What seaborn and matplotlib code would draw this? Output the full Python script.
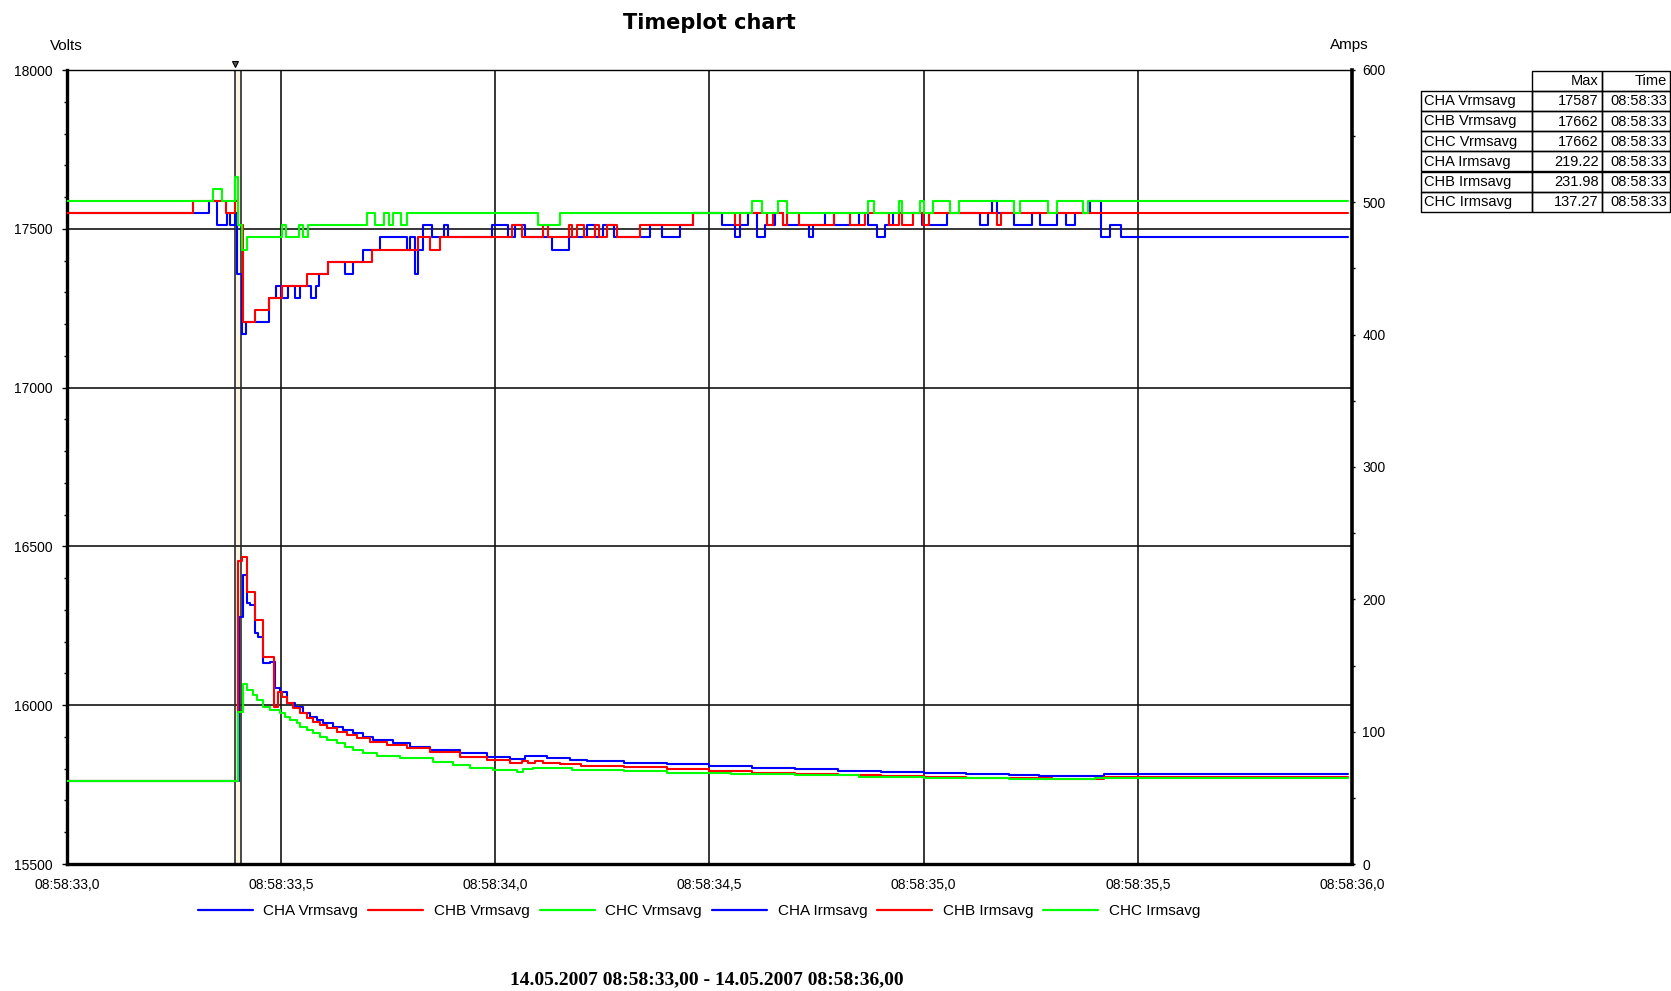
import numpy as np
import pandas as pd
import seaborn as sns
import matplotlib
matplotlib.use("Agg")
import matplotlib.pyplot as plt
from matplotlib.lines import Line2D
from matplotlib.patches import Rectangle
from matplotlib.ticker import MultipleLocator
import matplotlib.transforms as mtransforms

# ---------------- data ----------------
# time in seconds after 08:58:33,0 ; each pair = (time, value held from that time on)
end_time = 2.99

cha_v = [(0.000, 17550), (0.332, 17587), (0.351, 17512), (0.373, 17550), (0.381, 17512), (0.392, 17550),
         (0.398, 17358), (0.408, 17170), (0.419, 17207), (0.4725, 17282), (0.487, 17320), (0.500, 17282),
         (0.515, 17320), (0.532, 17282), (0.544, 17320), (0.570, 17282), (0.581, 17320), (0.589, 17358),
         (0.610, 17396), (0.649, 17358), (0.668, 17396), (0.692, 17433), (0.731, 17475), (0.793, 17433),
         (0.800, 17475), (0.8125, 17358), (0.820, 17433), (0.832, 17512), (0.851, 17475), (0.879, 17512),
         (0.890, 17475), (0.992, 17512), (1.030, 17475), (1.046, 17512), (1.069, 17475), (1.132, 17433),
         (1.173, 17475), (1.213, 17512), (1.233, 17475), (1.252, 17512), (1.276, 17475), (1.361, 17512),
         (1.389, 17475), (1.431, 17512), (1.462, 17550), (1.529, 17512), (1.560, 17475), (1.571, 17512),
         (1.591, 17550), (1.610, 17475), (1.630, 17512), (1.653, 17550), (1.672, 17512), (1.732, 17475),
         (1.741, 17512), (1.770, 17550), (1.791, 17512), (1.850, 17550), (1.871, 17512), (1.890, 17475),
         (1.910, 17512), (1.929, 17550), (1.996, 17512), (2.055, 17550), (2.131, 17512), (2.151, 17550),
         (2.160, 17587), (2.172, 17550), (2.212, 17512), (2.252, 17550), (2.271, 17512), (2.312, 17550),
         (2.332, 17512), (2.353, 17550), (2.388, 17587), (2.414, 17475), (2.434, 17512), (2.461, 17475)]

chb_v = [(0.000, 17550), (0.295, 17587), (0.371, 17550), (0.392, 17587), (0.400, 17512), (0.410, 17207),
         (0.439, 17245), (0.4725, 17282), (0.501, 17320), (0.561, 17358), (0.610, 17396), (0.711, 17433),
         (0.820, 17475), (0.8475, 17433), (0.871, 17475), (1.038, 17512), (1.062, 17475), (1.112, 17512),
         (1.124, 17475), (1.171, 17512), (1.178, 17475), (1.190, 17512), (1.206, 17475), (1.233, 17512),
         (1.241, 17475), (1.260, 17512), (1.283, 17475), (1.338, 17512), (1.462, 17550), (1.560, 17512),
         (1.571, 17550), (1.634, 17512), (1.649, 17550), (1.672, 17512), (1.680, 17550), (1.708, 17512),
         (1.791, 17550), (1.829, 17512), (1.862, 17550), (1.919, 17512), (1.942, 17550), (1.950, 17512),
         (1.975, 17550), (1.999, 17512), (2.013, 17550), (2.171, 17512), (2.181, 17550)]

chc_v = [(0.000, 17587), (0.340, 17625), (0.361, 17587), (0.392, 17662), (0.400, 17512), (0.408, 17433),
         (0.4196, 17475), (0.5012, 17512), (0.511, 17475), (0.542, 17512), (0.552, 17475), (0.562, 17512),
         (0.700, 17550), (0.719, 17512), (0.741, 17550), (0.752, 17512), (0.762, 17550), (0.780, 17512),
         (0.793, 17550), (1.100, 17512), (1.151, 17550), (1.599, 17587), (1.622, 17550), (1.661, 17587),
         (1.680, 17550), (1.871, 17587), (1.883, 17550), (1.942, 17587), (1.950, 17550), (1.992, 17587),
         (2.000, 17550), (2.021, 17587), (2.062, 17550), (2.082, 17587), (2.212, 17550), (2.224, 17587),
         (2.291, 17550), (2.312, 17587), (2.373, 17550), (2.384, 17587)]

cha_i = [(0.000, 63.0), (0.4024, 186.9), (0.4117, 218.3), (0.4195, 197.0), (0.4273, 195.7), (0.4390, 174.3),
         (0.4467, 171.7), (0.4584, 151.6), (0.4740, 152.9), (0.4856, 132.7), (0.4973, 130.2), (0.5129, 121.4),
         (0.5323, 118.8), (0.5518, 113.8), (0.5674, 111.3), (0.5829, 108.8), (0.5985, 106.3), (0.6219, 103.7),
         (0.6452, 101.2), (0.6686, 98.7), (0.6919, 96.2), (0.7153, 93.7), (0.7620, 91.1), (0.8000, 88.6),
         (0.8475, 86.1), (0.9176, 83.6), (0.9798, 81.1), (1.0343, 79.1), (1.0693, 81.8), (1.1199, 79.8),
         (1.1743, 78.5), (1.2133, 77.8), (1.30, 76.5), (1.40, 75.2), (1.50, 74.0), (1.60, 72.8), (1.70, 71.5),
         (1.80, 70.3), (1.90, 69.5), (2.00, 68.8), (2.10, 68.0), (2.20, 67.4), (2.27, 66.5), (2.42, 68.2)]

chb_i = [(0.000, 63.0), (0.4000, 229.2), (0.4078, 231.9), (0.4195, 205.8), (0.4390, 184.4), (0.4584, 156.1),
         (0.4834, 118.8), (0.4934, 130.2), (0.5012, 126.0), (0.5129, 121.4), (0.5285, 117.6), (0.5440, 113.8),
         (0.5596, 110.0), (0.5751, 107.5), (0.5907, 105.0), (0.6063, 102.5), (0.6296, 100.0), (0.6530, 97.5),
         (0.6763, 95.0), (0.7075, 92.4), (0.7464, 89.9), (0.7930, 87.4), (0.8475, 84.8), (0.9176, 81.1),
         (0.9798, 78.5), (1.0343, 76.5), (1.0615, 78.0), (1.0770, 76.5), (1.0926, 78.0), (1.1120, 76.5),
         (1.1500, 75.5), (1.2000, 74.2), (1.30, 73.0), (1.40, 71.5), (1.50, 70.2), (1.60, 69.0), (1.70, 68.0),
         (1.80, 67.0), (1.90, 66.3), (2.00, 65.6), (2.10, 65.0), (2.30, 64.4), (2.42, 65.6)]

chc_i = [(0.000, 63.0), (0.4000, 115.0), (0.4117, 136.0), (0.4195, 131.4), (0.4350, 127.7), (0.4428, 123.9),
         (0.4584, 118.8), (0.4740, 116.3), (0.4973, 113.8), (0.5090, 111.3), (0.5206, 108.8), (0.5360, 106.3),
         (0.5440, 103.7), (0.5600, 101.2), (0.5750, 98.7), (0.5910, 96.2), (0.6060, 93.7), (0.6300, 91.1),
         (0.6490, 88.6), (0.6680, 86.1), (0.6920, 83.6), (0.7230, 81.6), (0.7780, 79.8), (0.8550, 77.3),
         (0.9020, 74.8), (0.9410, 72.2), (0.9950, 71.0), (1.0500, 69.7), (1.0650, 71.5), (1.0890, 72.2),
         (1.1120, 72.8), (1.1350, 72.2), (1.1780, 71.0), (1.30, 70.0), (1.40, 69.0), (1.55, 68.0), (1.70, 67.0),
         (1.85, 66.0), (2.00, 65.3), (2.20, 64.6), (2.40, 65.3)]

volt_names = ["CHA Vrmsavg", "CHB Vrmsavg", "CHC Vrmsavg"]
amp_names = ["CHA Irmsavg", "CHB Irmsavg", "CHC Irmsavg"]
series_colors = ["#0000FF", "#FF0000", "#00FF00"]

x_tick_pos = [0.0, 0.5, 1.0, 1.5, 2.0, 2.5, 3.0]
x_tick_labels = ["08:58:33,0", "08:58:33,5", "08:58:34,0", "08:58:34,5", "08:58:35,0", "08:58:35,5", "08:58:36,0"]
volt_ticks = [15500, 16000, 16500, 17000, 17500, 18000]
amp_ticks = [0, 100, 200, 300, 400, 500, 600]
cursor_times = [0.3923, 0.4063]

table_names = ["CHA Vrmsavg", "CHB Vrmsavg", "CHC Vrmsavg", "CHA Irmsavg", "CHB Irmsavg", "CHC Irmsavg"]
table_max = ["17587", "17662", "17662", "219.22", "231.98", "137.27"]
table_time = ["08:58:33"] * 6

title = "Timeplot chart"
date_range = "14.05.2007 08:58:33,00 - 14.05.2007 08:58:36,00"


def to_frame(steps, name):
    t = [p[0] for p in steps] + [end_time]
    v = [p[1] for p in steps] + [steps[-1][1]]
    return pd.DataFrame({"t": t, "value": v, "series": name})


df_v = pd.concat([to_frame(s, n) for s, n in zip([cha_v, chb_v, chc_v], volt_names)], ignore_index=True)
df_i = pd.concat([to_frame(s, n) for s, n in zip([cha_i, chb_i, chc_i], amp_names)], ignore_index=True)

# ---------------- figure ----------------
sns.set_style("white")
plt.rcParams["font.family"] = ["Liberation Sans", "DejaVu Sans"]
for key in ["text.color", "axes.labelcolor", "xtick.color", "ytick.color", "axes.edgecolor"]:
    plt.rcParams[key] = "black"

W, H = 1671, 991
fig = plt.figure(figsize=(W / 100, H / 100), dpi=100)
L, R, T, B = 67, 1352, 70, 864
ax = fig.add_axes([L / W, 1 - B / H, (R - L) / W, (B - T) / H])
ax2 = ax.twinx()

# cursor band
ax.axvspan(cursor_times[0], cursor_times[1], color="#FBF6DF", zorder=0.5, lw=0)
for ct in cursor_times:
    ax.axvline(ct, color="#2b2b2b", lw=1.2, zorder=1)
trans = mtransforms.blended_transform_factory(ax.transData, ax.transAxes)
ax.plot([cursor_times[0]], [1.008], marker="v", ms=5, mfc="#555555", mec="black", mew=0.8,
        transform=trans, clip_on=False, zorder=5)

sns.lineplot(data=df_v, x="t", y="value", hue="series", hue_order=volt_names,
             palette=dict(zip(volt_names, series_colors)), drawstyle="steps-post",
             estimator=None, sort=False, legend=False, lw=1.5, ax=ax, zorder=3)
sns.lineplot(data=df_i, x="t", y="value", hue="series", hue_order=amp_names,
             palette=dict(zip(amp_names, series_colors)), drawstyle="steps-post",
             estimator=None, sort=False, legend=False, lw=1.5, ax=ax2, zorder=3)

ax.set_xlim(0, 3)
ax.set_ylim(15500, 18000)
ax2.set_ylim(0, 600)
ax.set_xlabel("")
ax.set_ylabel("")
ax2.set_ylabel("")

ax.set_xticks(x_tick_pos, x_tick_labels)
ax.xaxis.set_minor_locator(MultipleLocator(0.1))
ax.set_yticks(volt_ticks, [str(v) for v in volt_ticks])
ax.yaxis.set_minor_locator(MultipleLocator(100))
ax2.set_yticks(amp_ticks, [str(v) for v in amp_ticks])
ax2.yaxis.set_minor_locator(MultipleLocator(50))

ax.grid(True, which="major", color="#141414", lw=1.2)
ax.set_axisbelow(True)

ax.tick_params(axis="x", which="major", direction="out", length=3.6, width=1.0, labelsize=10, pad=6.5, color="black")
ax.tick_params(axis="x", which="minor", direction="out", length=3.0, width=1.0, color="black")
ax.tick_params(axis="y", which="major", direction="out", length=3.6, width=1.0, labelsize=10, pad=6.5, color="black")
ax.tick_params(axis="y", which="minor", direction="out", length=2.2, width=1.0, color="black")
ax2.tick_params(axis="y", which="major", direction="out", length=2.5, width=1.0, labelsize=10, pad=5, color="black")
ax2.tick_params(axis="y", which="minor", direction="out", length=2.0, width=1.0, color="black")

for side in ["left", "bottom"]:
    ax.spines[side].set_linewidth(2.4)
    ax.spines[side].set_color("black")
ax.spines["top"].set_linewidth(1.0)
ax.spines["top"].set_color("black")
ax.spines["right"].set_visible(False)
for side in ["left", "bottom", "top"]:
    ax2.spines[side].set_visible(False)
ax2.spines["right"].set_linewidth(2.6)
ax2.spines["right"].set_color("black")

# texts
fig.text((L + R) / 2 / W, 1 - 23 / H, title, ha="center", va="center", fontsize=15,
         fontweight="bold", family=["DejaVu Sans"], color="black")
fig.text(50 / W, 1 - 45.5 / H, "Volts", ha="left", va="center", fontsize=11)
fig.text(1330 / W, 1 - 45.5 / H, "Amps", ha="left", va="center", fontsize=11)
fig.text(706.5 / W, 1 - 980 / H, date_range, ha="center", va="center", fontsize=14,
         fontweight="bold", family=["Liberation Serif", "DejaVu Serif"], color="black")

# legend
handles = [Line2D([], [], color=c, lw=1.6) for c in series_colors * 2]
labels = volt_names + amp_names
fig.legend(handles, labels, loc="center", bbox_to_anchor=(699 / W, 1 - 911 / H), ncol=6, frameon=False,
           fontsize=11, handlelength=3.6, handletextpad=0.7, columnspacing=0.65)

# table (top right)
tab = fig.add_axes([0, 0, 1, 1], zorder=10)
tab.set_xlim(0, W)
tab.set_ylim(H, 0)
tab.axis("off")
col_x = [1420.5, 1531.5, 1601.5, 1669.5]
row_top = 70.5
row_h = 20.2
header = ["Max", "Time"]
for j in range(2):
    tab.add_patch(Rectangle((col_x[j + 1], row_top), col_x[j + 2] - col_x[j + 1], row_h,
                            fill=False, ec="black", lw=1.0))
    tab.text(col_x[j + 2] - 3, row_top + row_h / 2 + 0.5, header[j], ha="right", va="center", fontsize=10.5)
for i in range(len(table_names)):
    y0 = row_top + (i + 1) * row_h
    for j in range(3):
        tab.add_patch(Rectangle((col_x[j], y0), col_x[j + 1] - col_x[j], row_h, fill=False, ec="black", lw=1.0))
    tab.text(col_x[0] + 3, y0 + row_h / 2 + 0.5, table_names[i], ha="left", va="center", fontsize=10.5)
    tab.text(col_x[2] - 3, y0 + row_h / 2 + 0.5, table_max[i], ha="right", va="center", fontsize=10.5)
    tab.text(col_x[3] - 2, y0 + row_h / 2 + 0.5, table_time[i], ha="right", va="center", fontsize=10.5)

fig.savefig("out.png", dpi=100, facecolor="white")
